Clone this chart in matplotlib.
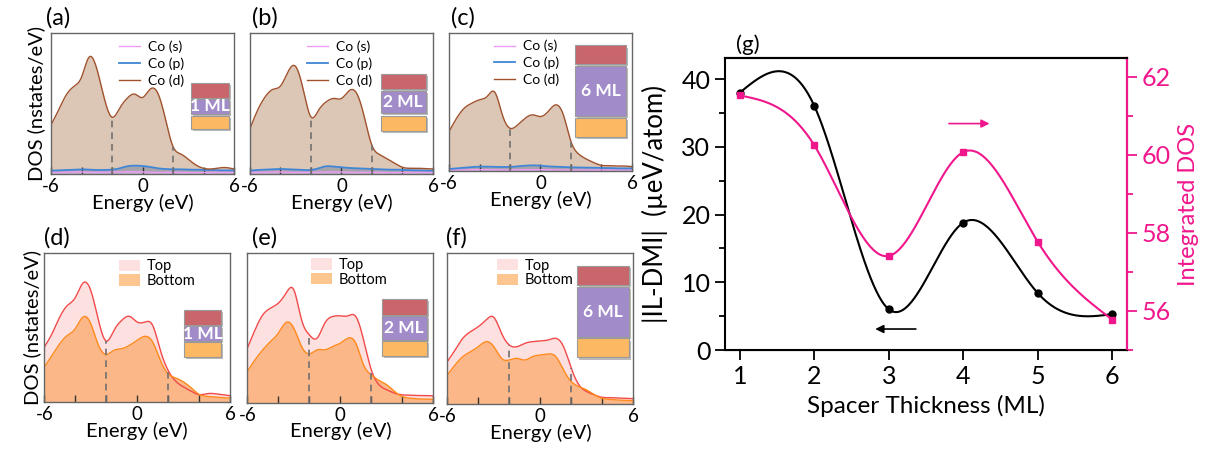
import numpy as np
import matplotlib
matplotlib.use('Agg')
import matplotlib.pyplot as plt
from matplotlib.patches import Rectangle, Patch
import matplotlib.patheffects as pe

plt.rcParams['font.family'] = ['Lato', 'DejaVu Sans']

# energy grid (eV) used by all DOS curves
energy = np.arange(-6, 6.01, 0.5)

# (a)-(c): Co projected DOS, every 0.5 eV
a_co_s = [0.05, 0.05, 0.05, 0.06, 0.06, 0.05, 0.05, 0.05, 0.06, 0.06, 0.07, 0.07, 0.06, 0.05, 0.05, 0.05, 0.05, 0.05, 0.04, 0.04, 0.04, 0.05, 0.05, 0.05, 0.05]
a_co_p = [0.10, 0.11, 0.12, 0.13, 0.14, 0.13, 0.12, 0.12, 0.13, 0.17, 0.23, 0.25, 0.24, 0.21, 0.17, 0.15, 0.14, 0.14, 0.13, 0.13, 0.12, 0.12, 0.11, 0.11, 0.11]
a_co_d = [1.47, 1.92, 2.37, 2.62, 2.90, 3.50, 3.15, 2.25, 1.70, 1.97, 2.27, 2.39, 2.29, 2.54, 2.42, 1.65, 0.82, 0.60, 0.44, 0.27, 0.17, 0.15, 0.18, 0.19, 0.15]

b_co_s = [0.05, 0.05, 0.05, 0.06, 0.06, 0.05, 0.05, 0.05, 0.05, 0.06, 0.06, 0.06, 0.06, 0.05, 0.05, 0.05, 0.05, 0.05, 0.04, 0.04, 0.04, 0.05, 0.05, 0.05, 0.05]
b_co_p = [0.10, 0.12, 0.13, 0.14, 0.15, 0.14, 0.13, 0.12, 0.12, 0.17, 0.23, 0.22, 0.20, 0.18, 0.17, 0.16, 0.15, 0.14, 0.13, 0.13, 0.12, 0.11, 0.11, 0.10, 0.10]
b_co_d = [1.35, 1.90, 2.30, 2.52, 2.62, 3.05, 3.20, 2.50, 1.70, 1.90, 2.15, 2.25, 2.25, 2.48, 2.40, 1.70, 0.85, 0.58, 0.45, 0.32, 0.20, 0.17, 0.17, 0.16, 0.15]

c_co_s = [0.03, 0.03, 0.03, 0.04, 0.04, 0.04, 0.04, 0.03, 0.03, 0.04, 0.04, 0.04, 0.04, 0.04, 0.03, 0.03, 0.03, 0.03, 0.03, 0.03, 0.03, 0.03, 0.03, 0.03, 0.03]
c_co_p = [0.06, 0.08, 0.10, 0.12, 0.13, 0.13, 0.12, 0.12, 0.12, 0.14, 0.16, 0.17, 0.16, 0.14, 0.13, 0.12, 0.11, 0.11, 0.10, 0.10, 0.09, 0.09, 0.08, 0.08, 0.08]
c_co_d = [1.18, 1.58, 1.88, 2.03, 2.13, 2.23, 2.36, 1.68, 1.28, 1.38, 1.58, 1.68, 1.63, 1.78, 1.98, 1.68, 0.88, 0.51, 0.36, 0.25, 0.17, 0.16, 0.15, 0.15, 0.13]

# (d)-(f): top / bottom interface DOS
d_top = [1.65, 2.05, 2.55, 2.90, 3.13, 3.57, 3.35, 2.45, 1.83, 2.15, 2.45, 2.57, 2.40, 2.40, 2.30, 1.55, 0.95, 0.62, 0.45, 0.32, 0.22, 0.25, 0.25, 0.22, 0.19]
d_bottom = [1.05, 1.40, 1.75, 2.00, 2.20, 2.55, 2.35, 1.70, 1.43, 1.55, 1.60, 1.70, 1.85, 1.97, 1.80, 1.25, 0.85, 0.72, 0.60, 0.42, 0.23, 0.17, 0.15, 0.13, 0.12]

e_top = [1.63, 2.18, 2.63, 2.83, 2.98, 3.28, 3.38, 2.48, 2.03, 1.93, 2.38, 2.58, 2.60, 2.60, 2.58, 1.88, 0.98, 0.53, 0.38, 0.28, 0.23, 0.22, 0.21, 0.21, 0.20]
e_bottom = [0.93, 1.28, 1.58, 1.83, 2.08, 2.40, 2.23, 1.68, 1.46, 1.58, 1.58, 1.68, 1.78, 1.93, 1.78, 1.13, 0.83, 0.66, 0.53, 0.33, 0.18, 0.13, 0.11, 0.10, 0.10]

f_top = [1.27, 1.62, 1.97, 2.17, 2.32, 2.52, 2.60, 2.12, 1.77, 1.72, 1.82, 1.87, 1.89, 1.92, 1.97, 1.72, 1.07, 0.57, 0.37, 0.27, 0.20, 0.19, 0.18, 0.17, 0.16]
f_bottom = [0.87, 1.17, 1.42, 1.57, 1.72, 1.87, 1.72, 1.37, 1.32, 1.37, 1.32, 1.42, 1.47, 1.50, 1.42, 1.02, 0.67, 0.52, 0.42, 0.27, 0.17, 0.14, 0.12, 0.11, 0.10]

# (g): IL-DMI and integrated DOS vs spacer thickness
thickness = [1, 2, 3, 4, 5, 6]
dmi = [38.0, 36.0, 6.0, 18.8, 8.4, 5.3]
int_dos = [61.52, 60.24, 57.41, 60.07, 57.77, 55.78]

ml_labels = ['1 ML', '2 ML', '6 ML']

PINK = '#f0178c'
STACK_COLORS = ['#c9666c', '#a28bc9', '#fdb863']


def smooth(x, y, n=400):
    # natural cubic spline through the points, for drawing only
    x = np.asarray(x, float)
    y = np.asarray(y, float)
    h = np.diff(x)
    m = len(x)
    A = np.zeros((m, m))
    b = np.zeros(m)
    A[0, 0] = A[-1, -1] = 1
    for i in range(1, m - 1):
        A[i, i - 1] = h[i - 1]
        A[i, i] = 2 * (h[i - 1] + h[i])
        A[i, i + 1] = h[i]
        b[i] = 6 * ((y[i + 1] - y[i]) / h[i] - (y[i] - y[i - 1]) / h[i - 1])
    M = np.linalg.solve(A, b)
    xs = np.linspace(x[0], x[-1], n)
    i = np.clip(np.searchsorted(x, xs) - 1, 0, m - 2)
    hi = h[i]
    t0 = x[i + 1] - xs
    t1 = xs - x[i]
    ys = (M[i] * t0 ** 3 + M[i + 1] * t1 ** 3) / (6 * hi) \
        + (y[i] / hi - M[i] * hi / 6) * t0 + (y[i + 1] / hi - M[i + 1] * hi / 6) * t1
    return xs, ys


def style_small(ax, ymax):
    ax.set_xlim(-6, 6)
    ax.set_ylim(0, ymax)
    ax.set_xticks([-6, -4, -2, 0, 2, 4, 6])
    ax.set_xticklabels(['-6', '', '', '0', '', '', '6'])
    ax.set_yticks([])
    ax.tick_params(axis='x', direction='in', length=5, width=1, color='#333333',
                   labelsize=13.5, pad=3)
    for sp in ax.spines.values():
        sp.set_color('#666666')
        sp.set_linewidth(1)
    ax.set_xlabel('Energy (eV)', fontsize=14.5, labelpad=-1)


def draw_stack(ax, x0, x1, ys, text):
    for (y0, y1), col in zip(ys, STACK_COLORS):
        ax.add_patch(Rectangle((x0, y0), x1 - x0, y1 - y0, transform=ax.transAxes,
                               facecolor=col, edgecolor='#9a9a9a', lw=0.8, zorder=5,
                               path_effects=[pe.withSimplePatchShadow(offset=(1.5, -1.5),
                                                                      shadow_rgbFace='#777777',
                                                                      alpha=0.5)]))
    ym = (ys[1][0] + ys[1][1]) / 2
    ax.text((x0 + x1) / 2, ym, text, transform=ax.transAxes, color='white',
            fontweight='bold', fontsize=12.5, ha='center', va='center', zorder=6)


fig = plt.figure(figsize=(12.07, 4.51), dpi=100)

top_axes = [
    [0.0423, 0.6142, 0.1516, 0.3126],
    [0.2071, 0.6142, 0.1516, 0.3126],
    [0.3720, 0.6208, 0.1516, 0.3060],
]
bot_axes = [
    [0.0367, 0.1086, 0.1539, 0.3311],
    [0.2049, 0.1075, 0.1541, 0.3319],
    [0.3706, 0.1042, 0.1541, 0.3341],
]
top_ymax = [4.22, 4.20, 4.13]
bot_ymax = [4.48, 4.49, 4.52]
top_legend_pos = [(0.37, 0.945), (0.31, 0.945), (0.245, 0.95)]
bot_legend_pos = [(0.40, 0.955), (0.34, 0.965), (0.265, 0.965)]
top_stacks = [
    (0.765, 0.973, [(0.539, 0.645), (0.426, 0.532), (0.319, 0.411)]),
    (0.714, 0.962, [(0.600, 0.709), (0.430, 0.590), (0.304, 0.414)]),
    (0.686, 0.969, [(0.775, 0.910), (0.396, 0.762), (0.249, 0.387)]),
]
bot_stacks = [
    (0.754, 0.952, [(0.514, 0.614), (0.408, 0.507), (0.300, 0.400)]),
    (0.723, 0.965, [(0.586, 0.690), (0.420, 0.580), (0.308, 0.412)]),
    (0.695, 0.978, [(0.790, 0.916), (0.447, 0.779), (0.309, 0.435)]),
]

top_data = [(a_co_s, a_co_p, a_co_d), (b_co_s, b_co_p, b_co_d), (c_co_s, c_co_p, c_co_d)]
bot_data = [(d_top, d_bottom), (e_top, e_bottom), (f_top, f_bottom)]

for k in range(3):
    ax = fig.add_axes(top_axes[k])
    s, p, d = top_data[k]
    xs, ds = smooth(energy, d)
    _, ps = smooth(energy, p)
    _, ss = smooth(energy, s)
    ax.fill_between(xs, 0, ds, color='#dcc6b6', lw=0)
    ax.fill_between(xs, 0, ps, color='#a6a4ab', lw=0)
    ax.fill_between(xs, 0, ss, color='#c7b3cf', lw=0)
    ax.plot(xs, ss, color='#ee9cf5', lw=1, label='Co (s)')
    ax.plot(xs, ps, color='#3f86d6', lw=1.3, label='Co (p)')
    ax.plot(xs, ds, color='#a0522d', lw=1, label='Co (d)')
    for e in (-2, 2):
        ax.plot([e, e], [0, np.interp(e, xs, ds)], ls=(0, (4, 3)), color='#707070', lw=1.2)
    style_small(ax, top_ymax[k])
    ax.legend(loc='upper left', bbox_to_anchor=top_legend_pos[k], frameon=False, fontsize=10,
              handlelength=1.5, labelspacing=0.3, borderpad=0, borderaxespad=0,
              handletextpad=0.6)
    x0, x1, ys = top_stacks[k]
    draw_stack(ax, x0, x1, ys, ml_labels[k])
    if k == 0:
        ax.set_ylabel('DOS (nstates/eV)', fontsize=14.5, labelpad=4)

for k in range(3):
    ax = fig.add_axes(bot_axes[k])
    t, b = bot_data[k]
    xs, ts = smooth(energy, t)
    _, bs = smooth(energy, b)
    ax.fill_between(xs, 0, ts, color='#fde0e0', lw=0)
    ax.fill_between(xs, 0, bs, color='#fbb582', lw=0, alpha=0.95)
    ax.plot(xs, ts, color='#f24a4a', lw=1)
    ax.plot(xs, bs, color='#ff8a1c', lw=1)
    for e in (-2, 2):
        top_val = max(np.interp(e, xs, ts), np.interp(e, xs, bs))
        ax.plot([e, e], [0, top_val], ls=(0, (4, 3)), color='#707070', lw=1.2)
    style_small(ax, bot_ymax[k])
    handles = [Patch(facecolor='#fde0e0', edgecolor='none', label='Top'),
               Patch(facecolor='#fdc590', edgecolor='none', label='Bottom')]
    ax.legend(handles=handles, loc='upper left', bbox_to_anchor=bot_legend_pos[k], frameon=False,
              fontsize=10.5, handlelength=1.5, handleheight=0.8, labelspacing=0.05,
              borderpad=0, borderaxespad=0, handletextpad=0.4)
    x0, x1, ys = bot_stacks[k]
    draw_stack(ax, x0, x1, ys, ml_labels[k])
    if k == 0:
        ax.set_ylabel('DOS (nstates/eV)', fontsize=14.5, labelpad=2)

# panel letters
for lab, x, y in [('(a)', 46, 18), ('(b)', 252, 18), ('(c)', 451, 18),
                  ('(d)', 44, 238), ('(e)', 252, 238), ('(f)', 446, 238)]:
    fig.text(x / 1207, 1 - y / 451, lab, fontsize=17, va='center', ha='left')

# (g)
ax = fig.add_axes([0.6007, 0.2239, 0.3331, 0.6475])
xs, ys = smooth(thickness, dmi)
ax.plot(xs, ys, color='black', lw=1.5, zorder=3)
ax.plot(thickness, dmi, 'o', color='black', ms=5, zorder=4)
ax.set_xlim(0.8, 6.2)
ax.set_ylim(0, 43.1)
ax.set_xticks(thickness)
ax.set_yticks([0, 10, 20, 30, 40])
ax.set_yticks([5, 15, 25, 35], minor=True)
ax.tick_params(axis='both', which='major', direction='out', length=7, width=1.3, labelsize=18)
ax.tick_params(axis='y', which='minor', direction='out', length=4, width=1.3)
ax.tick_params(axis='x', top=False)
for sp in ax.spines.values():
    sp.set_linewidth(1.5)
ax.set_xlabel('Spacer Thickness (ML)', fontsize=17.5, labelpad=5)
ax.set_ylabel('|IL-DMI|  (\u00b5eV/atom)', fontsize=18.5, labelpad=10)
ax.annotate('', xy=(2.78, 3.1), xytext=(3.4, 3.1),
            arrowprops=dict(arrowstyle='-|>', color='black', lw=1.2, mutation_scale=12))

ax2 = ax.twinx()
xs2, ys2 = smooth(thickness, int_dos)
ax2.plot(xs2, ys2, color=PINK, lw=1.5, zorder=3)
ax2.plot(thickness, int_dos, 's', color=PINK, ms=5, zorder=4)
ax2.set_ylim(55.03, 62.48)
ax2.set_yticks([56, 58, 60, 62])
ax2.set_yticks([55, 57, 59, 61], minor=True)
ax2.tick_params(axis='y', which='major', direction='out', length=7, width=1.3, labelsize=18,
                colors=PINK)
ax2.tick_params(axis='y', which='minor', direction='out', length=4, width=1.3, colors=PINK)
ax2.spines['right'].set_color(PINK)
ax2.spines['right'].set_linewidth(1.5)
ax2.spines['left'].set_visible(False)
ax2.spines['top'].set_linewidth(1.5)
ax2.set_ylabel('Integrated DOS', fontsize=17, color=PINK, labelpad=5)
ax2.annotate('', xy=(4.39, 60.8), xytext=(3.77, 60.8),
             arrowprops=dict(arrowstyle='-|>', color=PINK, lw=1.2, mutation_scale=12))

fig.text(736 / 1207, 1 - 45 / 451, '(g)', fontsize=16, va='center', ha='left')

fig.savefig('out.png', dpi=100)
